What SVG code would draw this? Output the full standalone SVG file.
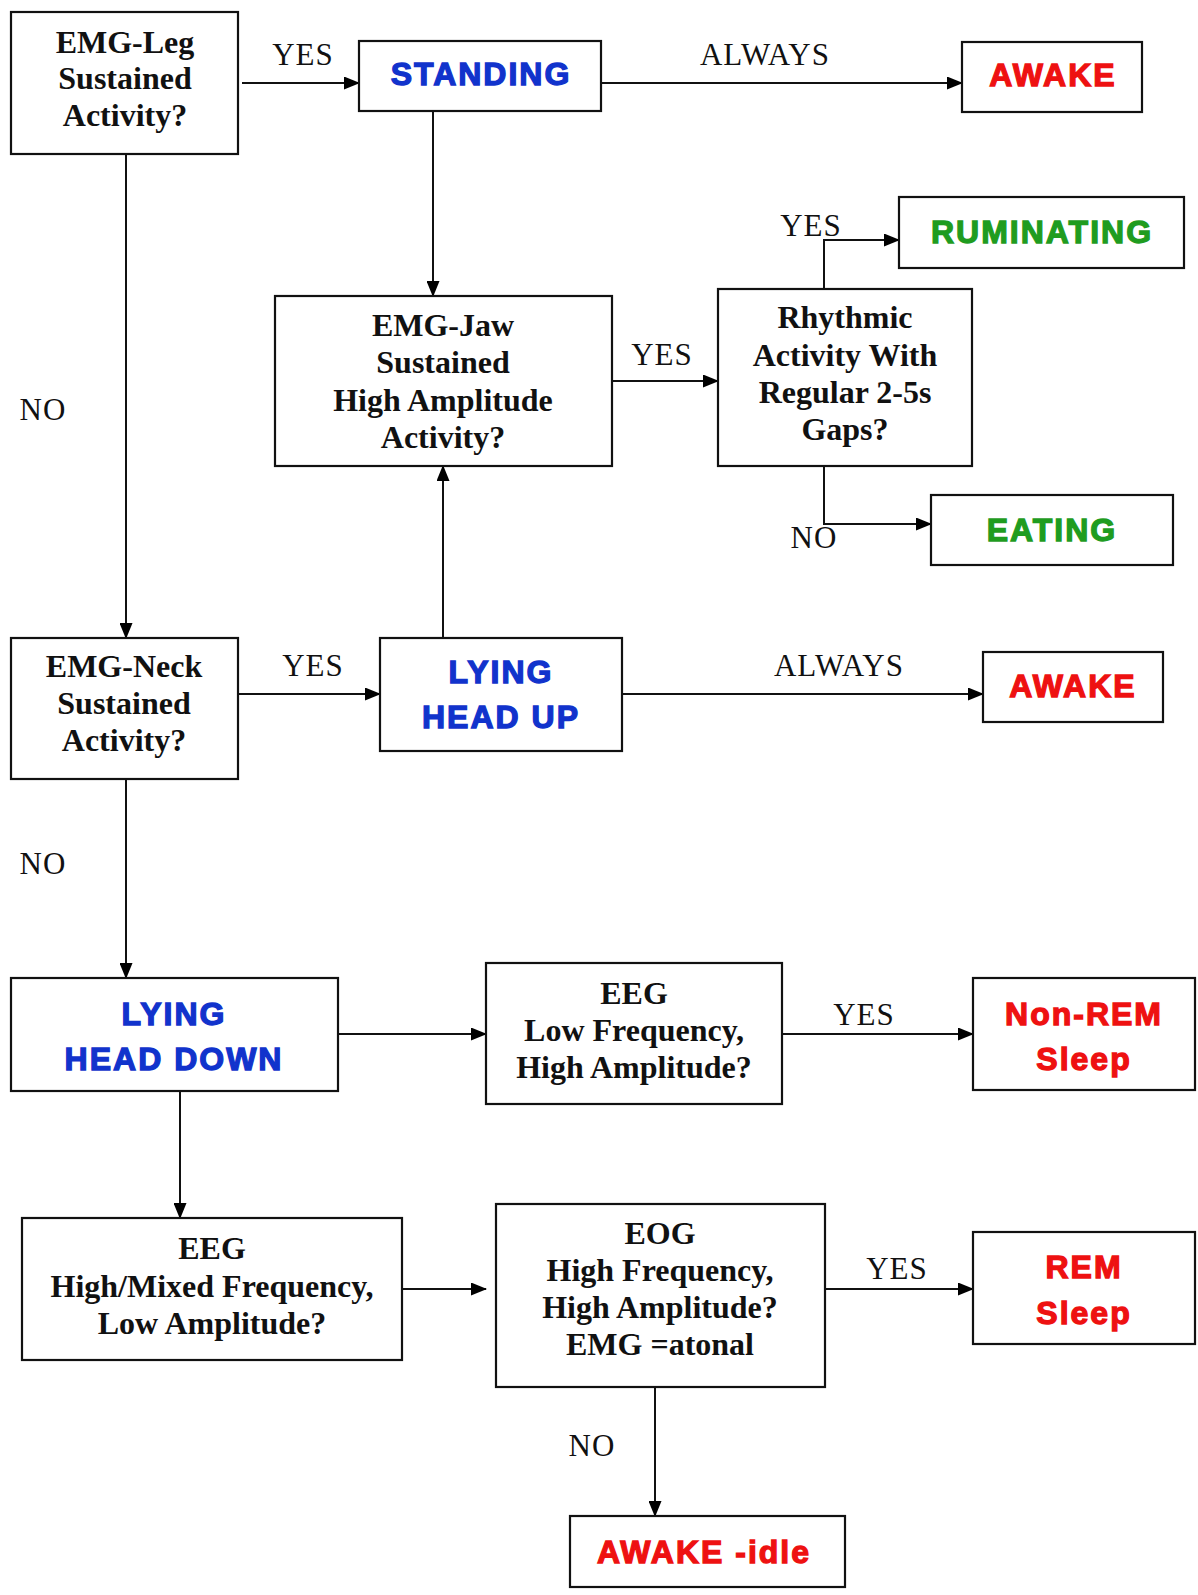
<svg xmlns="http://www.w3.org/2000/svg" width="1198" height="1595" viewBox="0 0 1198 1595">
<defs>
<marker id="ah" markerWidth="16" markerHeight="13" refX="15" refY="6.5" orient="auto" markerUnits="userSpaceOnUse">
<path d="M0,0 L16,6.5 L0,13 Z" fill="#000"/>
</marker>
<style>
.box{fill:#fff;stroke:#111;stroke-width:2.2}
.q{font-family:"Liberation Serif","Times New Roman",serif;font-weight:bold;font-size:32px;fill:#111;text-anchor:middle}
.lbl{font-family:"Liberation Serif","Times New Roman",serif;font-size:31px;letter-spacing:1px;fill:#111;text-anchor:middle}
.st{font-family:"Liberation Sans",Arial,sans-serif;font-weight:bold;font-size:32px;text-anchor:middle;letter-spacing:2px;stroke-width:1.3px}
.blue{fill:#1133cc;stroke:#1133cc}
.red{fill:#ee1111;stroke:#ee1111}
.green{fill:#1f9c1f;stroke:#1f9c1f}
.c{fill:none;stroke:#111;stroke-width:2}
</style>
</defs>
<rect width="1198" height="1595" fill="#fff"/>
<g id="connectors">
<path class="c" d="M242,83 H359" marker-end="url(#ah)"/>
<path class="c" d="M601,83 H962" marker-end="url(#ah)"/>
<path class="c" d="M433,111 V296" marker-end="url(#ah)"/>
<path class="c" d="M612,381 H718" marker-end="url(#ah)"/>
<path class="c" d="M824,289 V240 H899" marker-end="url(#ah)"/>
<path class="c" d="M824,466 V524 H931" marker-end="url(#ah)"/>
<path class="c" d="M126,154 V638" marker-end="url(#ah)"/>
<path class="c" d="M234,694 H380" marker-end="url(#ah)"/>
<path class="c" d="M622,694 H983" marker-end="url(#ah)"/>
<path class="c" d="M443,638 V466" marker-end="url(#ah)"/>
<path class="c" d="M126,779 V978" marker-end="url(#ah)"/>
<path class="c" d="M338,1034 H486" marker-end="url(#ah)"/>
<path class="c" d="M782,1034 H973" marker-end="url(#ah)"/>
<path class="c" d="M180,1091 V1218" marker-end="url(#ah)"/>
<path class="c" d="M402,1289 H486" marker-end="url(#ah)"/>
<path class="c" d="M825,1289 H973" marker-end="url(#ah)"/>
<path class="c" d="M655,1387 V1516" marker-end="url(#ah)"/>
<text class="lbl" x="303" y="65">YES</text>
<text class="lbl" x="765" y="65">ALWAYS</text>
<text class="lbl" x="811" y="236">YES</text>
<text class="lbl" x="662" y="365">YES</text>
<text class="lbl" x="814" y="548">NO</text>
<text class="lbl" x="43" y="420">NO</text>
<text class="lbl" x="313" y="676">YES</text>
<text class="lbl" x="839" y="676">ALWAYS</text>
<text class="lbl" x="43" y="874">NO</text>
<text class="lbl" x="864" y="1025">YES</text>
<text class="lbl" x="897" y="1279">YES</text>
<text class="lbl" x="592" y="1456">NO</text>
</g>
<g id="emg-leg">
<rect class="box" x="11" y="12" width="227" height="142"/>
<text class="q" x="125" y="53">EMG-Leg</text>
<text class="q" x="125" y="89">Sustained</text>
<text class="q" x="125" y="126">Activity?</text>
</g>
<g id="standing">
<rect class="box" x="359" y="41" width="242" height="70"/>
<text class="st blue" x="481" y="85">STANDING</text>
</g>
<g id="awake-top">
<rect class="box" x="962" y="42" width="180" height="70"/>
<text class="st red" x="1053" y="86">AWAKE</text>
</g>
<g id="ruminating">
<rect class="box" x="899" y="197" width="285" height="71"/>
<text class="st green" x="1042" y="243">RUMINATING</text>
</g>
<g id="emg-jaw">
<rect class="box" x="275" y="296" width="337" height="170"/>
<text class="q" x="443" y="336">EMG-Jaw</text>
<text class="q" x="443" y="373">Sustained</text>
<text class="q" x="443" y="411">High Amplitude</text>
<text class="q" x="443" y="448">Activity?</text>
</g>
<g id="rhythmic">
<rect class="box" x="718" y="289" width="254" height="177"/>
<text class="q" x="845" y="328">Rhythmic</text>
<text class="q" x="845" y="366">Activity With</text>
<text class="q" x="845" y="403">Regular 2-5s</text>
<text class="q" x="845" y="440">Gaps?</text>
</g>
<g id="eating">
<rect class="box" x="931" y="495" width="242" height="70"/>
<text class="st green" x="1052" y="541">EATING</text>
</g>
<g id="emg-neck">
<rect class="box" x="11" y="638" width="227" height="141"/>
<text class="q" x="124" y="677">EMG-Neck</text>
<text class="q" x="124" y="714">Sustained</text>
<text class="q" x="124" y="751">Activity?</text>
</g>
<g id="lying-head-up">
<rect class="box" x="380" y="638" width="242" height="113"/>
<text class="st blue" x="501" y="683">LYING</text>
<text class="st blue" x="501" y="728">HEAD UP</text>
</g>
<g id="awake-mid">
<rect class="box" x="983" y="652" width="180" height="70"/>
<text class="st red" x="1073" y="697">AWAKE</text>
</g>
<g id="lying-head-down">
<rect class="box" x="11" y="978" width="327" height="113"/>
<text class="st blue" x="174" y="1025">LYING</text>
<text class="st blue" x="174" y="1070">HEAD DOWN</text>
</g>
<g id="eeg-low">
<rect class="box" x="486" y="963" width="296" height="141"/>
<text class="q" x="634" y="1004">EEG</text>
<text class="q" x="634" y="1041">Low Frequency,</text>
<text class="q" x="634" y="1078">High Amplitude?</text>
</g>
<g id="non-rem">
<rect class="box" x="973" y="978" width="222" height="112"/>
<text class="st red" x="1084" y="1025">Non-REM</text>
<text class="st red" x="1084" y="1070">Sleep</text>
</g>
<g id="eeg-high">
<rect class="box" x="22" y="1218" width="380" height="142"/>
<text class="q" x="212" y="1259">EEG</text>
<text class="q" x="212" y="1297">High/Mixed Frequency,</text>
<text class="q" x="212" y="1334">Low Amplitude?</text>
</g>
<g id="eog">
<rect class="box" x="496" y="1204" width="329" height="183"/>
<text class="q" x="660" y="1244">EOG</text>
<text class="q" x="660" y="1281">High Frequency,</text>
<text class="q" x="660" y="1318">High Amplitude?</text>
<text class="q" x="660" y="1355">EMG =atonal</text>
</g>
<g id="rem">
<rect class="box" x="973" y="1232" width="222" height="112"/>
<text class="st red" x="1084" y="1278">REM</text>
<text class="st red" x="1084" y="1324">Sleep</text>
</g>
<g id="awake-idle">
<rect class="box" x="570" y="1516" width="275" height="71"/>
<text class="st red" x="704" y="1563">AWAKE -idle</text>
</g>
</svg>
